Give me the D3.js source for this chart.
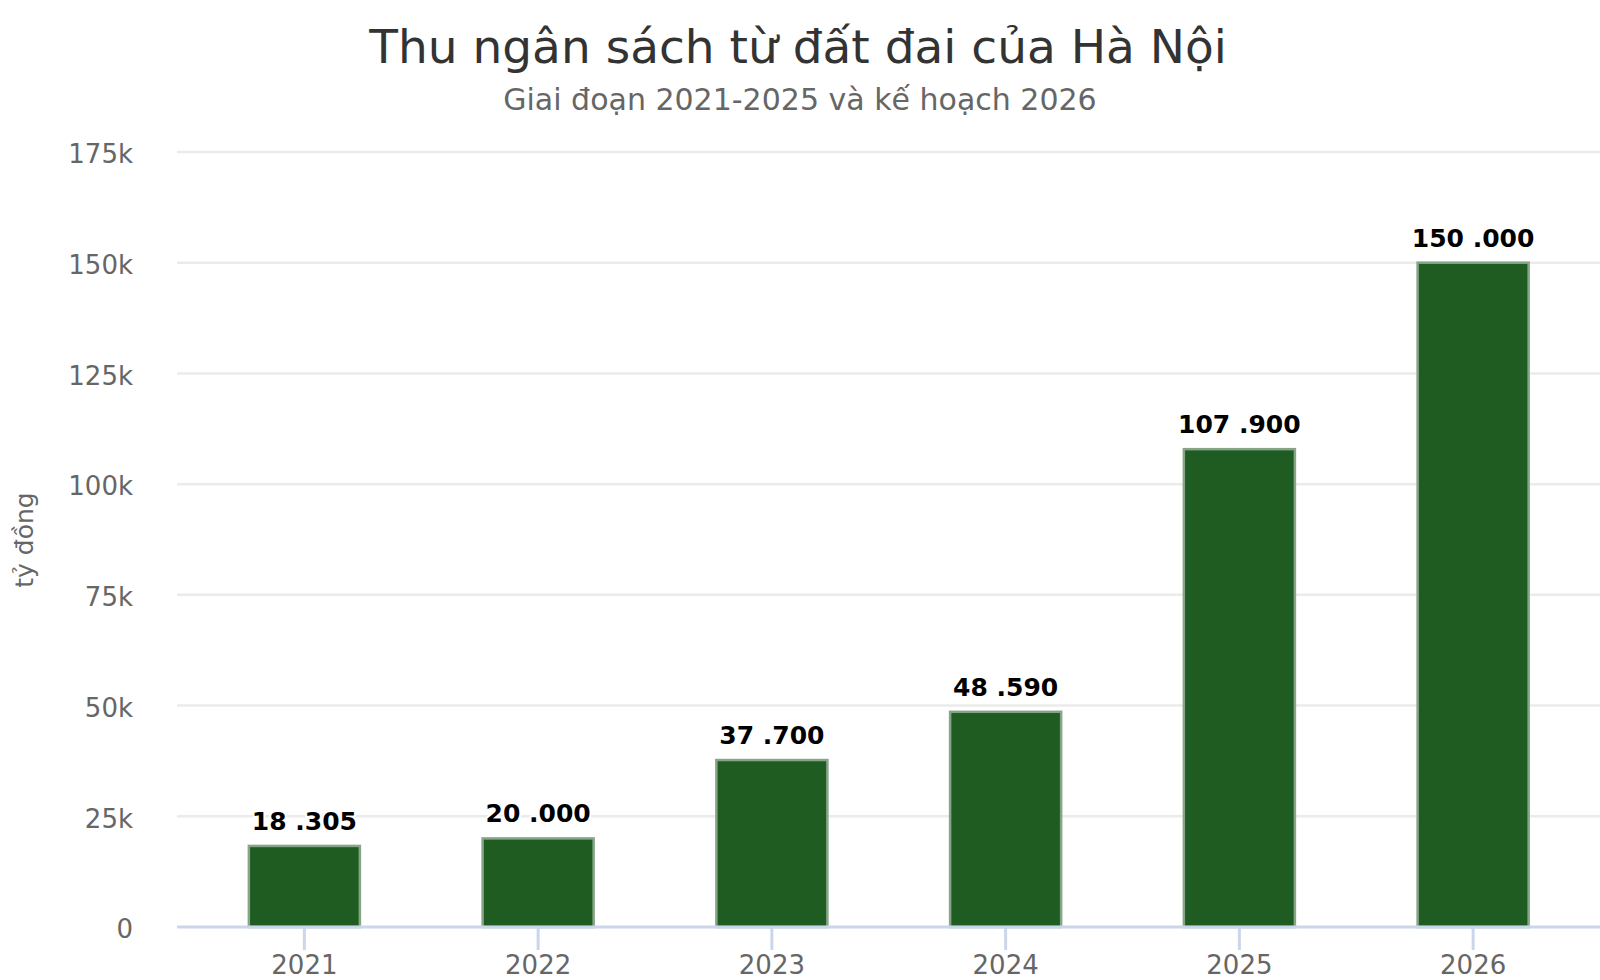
<!DOCTYPE html>
<html>
<head>
<meta charset="utf-8">
<script src="https://cdnjs.cloudflare.com/ajax/libs/d3/7.8.5/d3.min.js"></script>
<style>
  body { margin: 0; background: #fff; }
  svg { display: block; font-family: "DejaVu Sans", Verdana, sans-serif; }
</style>
</head>
<body>
<script>
// values (tỷ đồng)
var years = ["2021", "2022", "2023", "2024", "2025", "2026"];
var revenue = [18305, 20000, 37700, 48590, 107900, 150000];
var valueLabels = ["18 .305", "20 .000", "37 .700", "48 .590", "107 .900", "150 .000"];
var yTicks = [0, 25000, 50000, 75000, 100000, 125000, 150000, 175000];

var titleText = "Thu ngân sách từ đất đai của Hà Nội";
var subtitleText = "Giai đoạn 2021-2025 và kế hoạch 2026";
var yTitle = "tỷ đồng";

var w = 1600;
var h = 980;

var svg = d3.select("body")
            .append("svg")
            .attr("width", w)
            .attr("height", h);

// scales
var x = d3.scaleBand()
          .domain(years)
          .range([187.5, 1590])
          .paddingInner(0.525)
          .paddingOuter(0.2625);

var y = d3.scaleLinear()
          .domain([0, 175000])
          .range([927, 152]);

// grid lines
svg.append("g")
   .selectAll("line")
   .data(yTicks.slice(1))
   .enter()
   .append("line")
   .attr("x1", 177)
   .attr("x2", w)
   .attr("y1", function(d){ return y(d); })
   .attr("y2", function(d){ return y(d); })
   .attr("stroke", "#ebebeb")
   .attr("stroke-width", 2.5);

// y axis labels
var yAxis = d3.axisLeft(y)
              .tickValues(yTicks)
              .tickSize(0)
              .tickPadding(0)
              .tickFormat(function(d){ return d == 0 ? "0" : (d / 1000) + "k"; });

var gy = svg.append("g")
            .attr("transform", "translate(133,0)")
            .call(yAxis);
gy.select(".domain").remove();
gy.selectAll("text")
  .attr("dy", "0.72em")
  .attr("y", -8)
  .attr("fill", "#666666")
  .style("font-size", "26px")
  .style("font-family", "DejaVu Sans");

// bars
svg.append("g")
   .selectAll("rect")
   .data(revenue)
   .enter()
   .append("rect")
   .attr("x", function(d, i){ return x(years[i]); })
   .attr("y", function(d){ return y(d); })
   .attr("width", x.bandwidth())
   .attr("height", function(d){ return y(0) - y(d); })
   .attr("fill", "#1e5c21")
   .attr("stroke", "#86a587")
   .attr("stroke-width", 2.5);

// x axis
var xAxis = d3.axisBottom(x)
              .tickSizeInner(23)
              .tickSizeOuter(0)
              .tickPadding(4);

var gx = svg.append("g")
            .attr("transform", "translate(0," + y(0) + ")")
            .call(xAxis);
gx.select(".domain")
  .attr("d", "M177,0H" + w)
  .attr("stroke", "#ccd6eb")
  .attr("stroke-width", 3);
gx.selectAll(".tick line")
  .attr("stroke", "#ccd6eb")
  .attr("stroke-width", 3);
gx.selectAll("text")
  .attr("y", 47)
  .attr("dy", 0)
  .attr("fill", "#666666")
  .style("font-size", "26px")
  .style("font-family", "DejaVu Sans");

// value labels above bars
svg.append("g")
   .selectAll("text")
   .data(revenue)
   .enter()
   .append("text")
   .attr("x", function(d, i){ return x(years[i]) + x.bandwidth() / 2; })
   .attr("y", function(d){ return y(d) - 16; })
   .attr("text-anchor", "middle")
   .style("font-size", "25px")
   .style("font-weight", "bold")
   .attr("fill", "#000000")
   .attr("stroke", "#ffffff")
   .attr("stroke-width", 4)
   .attr("stroke-linejoin", "round")
   .style("paint-order", "stroke")
   .text(function(d, i){ return valueLabels[i]; });

// titles
svg.append("text")
   .attr("x", 798)
   .attr("y", 63)
   .attr("text-anchor", "middle")
   .attr("fill", "#333333")
   .style("font-size", "47px")
   .text(titleText);

svg.append("text")
   .attr("x", 800)
   .attr("y", 110)
   .attr("text-anchor", "middle")
   .attr("fill", "#666666")
   .style("font-size", "30px")
   .text(subtitleText);

svg.append("text")
   .attr("transform", "translate(33,540) rotate(-90)")
   .attr("text-anchor", "middle")
   .attr("fill", "#666666")
   .style("font-size", "25px")
   .text(yTitle);
</script>
</body>
</html>
